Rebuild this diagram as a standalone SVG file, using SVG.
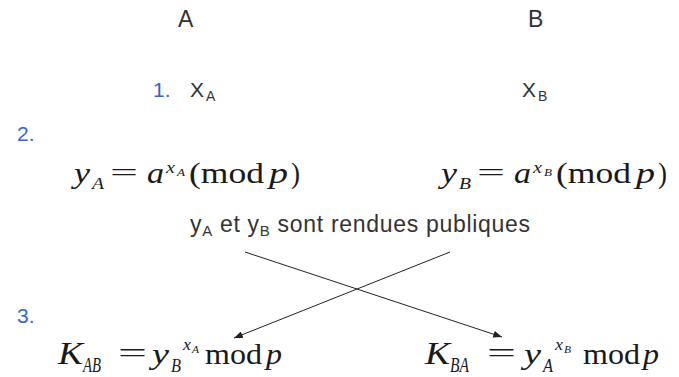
<svg xmlns="http://www.w3.org/2000/svg" width="679" height="377" viewBox="0 0 679 377">
<defs>
<style>
.s{font-family:"Liberation Sans",Arial,sans-serif;fill:#333}
.n{font-family:"Liberation Sans",Arial,sans-serif;fill:#3366cc;font-size:21px}
.m{font-family:"Liberation Serif","Times New Roman",serif;fill:#1a1a1a}
.i{font-style:italic}
.c{stroke:#222;stroke-width:1;fill:none}
</style>
<marker id="ah" viewBox="0 0 10 8" refX="10" refY="4" markerWidth="9" markerHeight="7" markerUnits="userSpaceOnUse" orient="auto">
<path d="M0,0 L10,4 L0,8 Z" fill="#222"/>
</marker>
</defs>
<rect width="679" height="377" fill="#fff"/>

<g id="labelA"><text class="s" x="178" y="27" font-size="23">A</text></g>
<g id="labelB"><text class="s" x="528" y="27" font-size="23">B</text></g>

<g id="step1">
<text class="n" x="153" y="97">1.</text>
<text class="s" x="190" y="97" font-size="21">X</text>
<text class="s" x="206" y="101" font-size="14">A</text>
<text class="s" x="522" y="97" font-size="21">X</text>
<text class="s" x="538" y="101" font-size="14">B</text>
</g>

<g id="step2">
<text class="n" x="17" y="141">2.</text>
<g id="formulaA">
<text class="m i" x="74" y="183" font-size="30" textLength="16" lengthAdjust="spacingAndGlyphs">y</text>
<text class="m i" x="92" y="189" font-size="17" textLength="12" lengthAdjust="spacingAndGlyphs">A</text>
<text class="m" x="110" y="181" font-size="26" textLength="28" lengthAdjust="spacingAndGlyphs">=</text>
<text class="m i" x="147" y="183" font-size="30" textLength="17" lengthAdjust="spacingAndGlyphs">a</text>
<text class="m i" x="166" y="173" font-size="17" textLength="9" lengthAdjust="spacingAndGlyphs">x</text>
<text class="m i" x="177" y="176" font-size="10" textLength="8" lengthAdjust="spacingAndGlyphs">A</text>
<text class="m" x="189" y="183" font-size="30" textLength="75" lengthAdjust="spacingAndGlyphs">(mod</text>
<text class="m i" x="269" y="183" font-size="30" textLength="19" lengthAdjust="spacingAndGlyphs">p</text>
<text class="m" x="291" y="183" font-size="30" textLength="9" lengthAdjust="spacingAndGlyphs">)</text>
</g>
<g id="formulaB" transform="translate(367,0)">
<text class="m i" x="74" y="183" font-size="30" textLength="16" lengthAdjust="spacingAndGlyphs">y</text>
<text class="m i" x="92" y="189" font-size="17" textLength="12" lengthAdjust="spacingAndGlyphs">B</text>
<text class="m" x="110" y="181" font-size="26" textLength="28" lengthAdjust="spacingAndGlyphs">=</text>
<text class="m i" x="147" y="183" font-size="30" textLength="17" lengthAdjust="spacingAndGlyphs">a</text>
<text class="m i" x="166" y="173" font-size="17" textLength="9" lengthAdjust="spacingAndGlyphs">x</text>
<text class="m i" x="177" y="176" font-size="10" textLength="8" lengthAdjust="spacingAndGlyphs">B</text>
<text class="m" x="189" y="183" font-size="30" textLength="75" lengthAdjust="spacingAndGlyphs">(mod</text>
<text class="m i" x="269" y="183" font-size="30" textLength="19" lengthAdjust="spacingAndGlyphs">p</text>
<text class="m" x="291" y="183" font-size="30" textLength="9" lengthAdjust="spacingAndGlyphs">)</text>
</g>
</g>

<g id="publicNote">
<text class="s" x="190" y="232" font-size="23" textLength="340" lengthAdjust="spacing">y<tspan font-size="15" dy="4">A</tspan><tspan dy="-4"> et y</tspan><tspan font-size="15" dy="4">B</tspan><tspan dy="-4"> sont rendues publiques</tspan></text>
</g>

<g id="connectors">
<line class="c" x1="245" y1="252" x2="502" y2="337" marker-end="url(#ah)"/>
<line class="c" x1="450" y1="252" x2="234" y2="338" marker-end="url(#ah)"/>
</g>

<g id="step3">
<text class="n" x="17" y="323">3.</text>
<g id="keyA">
<text class="m i" x="58" y="364" font-size="32" textLength="25" lengthAdjust="spacingAndGlyphs">K</text>
<text class="m i" x="83" y="372" font-size="20" textLength="18" lengthAdjust="spacingAndGlyphs">AB</text>
<text class="m" x="118" y="362" font-size="27" textLength="29" lengthAdjust="spacingAndGlyphs">=</text>
<text class="m i" x="152" y="364" font-size="30" textLength="17" lengthAdjust="spacingAndGlyphs">y</text>
<text class="m i" x="171" y="372" font-size="19" textLength="10" lengthAdjust="spacingAndGlyphs">B</text>
<text class="m i" x="183" y="350" font-size="17" textLength="8" lengthAdjust="spacingAndGlyphs">x</text>
<text class="m i" x="192" y="353" font-size="10" textLength="7" lengthAdjust="spacingAndGlyphs">A</text>
<text class="m" x="205" y="364" font-size="30" textLength="57" lengthAdjust="spacingAndGlyphs">mod</text>
<text class="m i" x="266" y="364" font-size="30" textLength="16" lengthAdjust="spacingAndGlyphs">p</text>
</g>
<g id="keyB">
<text class="m i" x="425" y="364" font-size="32" textLength="25" lengthAdjust="spacingAndGlyphs">K</text>
<text class="m i" x="450" y="372" font-size="20" textLength="19" lengthAdjust="spacingAndGlyphs">BA</text>
<text class="m" x="487" y="362" font-size="27" textLength="29" lengthAdjust="spacingAndGlyphs">=</text>
<text class="m i" x="524" y="364" font-size="30" textLength="17" lengthAdjust="spacingAndGlyphs">y</text>
<text class="m i" x="543" y="372" font-size="19" textLength="10" lengthAdjust="spacingAndGlyphs">A</text>
<text class="m i" x="555" y="350" font-size="17" textLength="8" lengthAdjust="spacingAndGlyphs">x</text>
<text class="m i" x="564" y="353" font-size="10" textLength="7" lengthAdjust="spacingAndGlyphs">B</text>
<text class="m" x="583" y="364" font-size="30" textLength="57" lengthAdjust="spacingAndGlyphs">mod</text>
<text class="m i" x="643" y="364" font-size="30" textLength="16" lengthAdjust="spacingAndGlyphs">p</text>
</g>
</g>
</svg>
